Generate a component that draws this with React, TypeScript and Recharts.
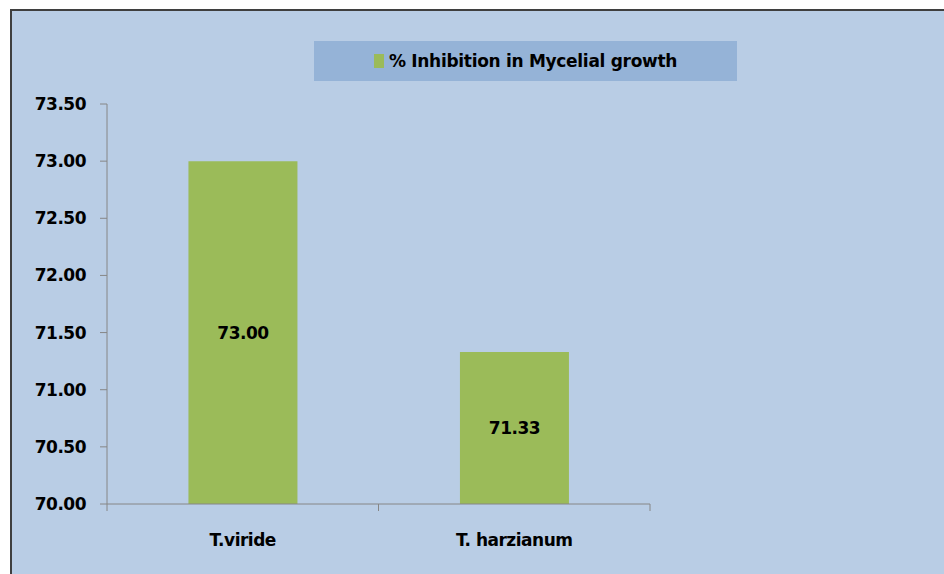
import { BarChart, Bar, XAxis, YAxis, Legend, LabelList } from "recharts";

const categories = ["T.viride", "T. harzianum"];
const inhibition = [73.0, 71.33];
const yTicks = [70, 70.5, 71, 71.5, 72, 72.5, 73, 73.5];
const seriesName = "% Inhibition in Mycelial growth";

const data = categories.map((name, i) => ({ name, value: inhibition[i] }));

const FONT = "'DejaVu Sans', 'Liberation Sans', Arial, sans-serif";
const AXIS_COLOR = "#868686";
const TICK_SIZE = 7;
const X_TICK_MARGIN = 23;

const labelStyle = { fill: "#000", fontFamily: FONT, fontWeight: "bold", fontSize: 17, letterSpacing: -0.5 };

// Excel-style category axis: tick marks sit between categories, not under them
function CategoryTick(props: any) {
  const { x, y, payload, index, visibleTicksCount } = props;
  const half = payload.offset || 0;
  const axisY = y - TICK_SIZE - X_TICK_MARGIN;
  const isLast = index === visibleTicksCount - 1;
  return (
    <g>
      <line x1={x - half} x2={x - half} y1={axisY} y2={axisY + TICK_SIZE} stroke={AXIS_COLOR} />
      {isLast && <line x1={x + half} x2={x + half} y1={axisY} y2={axisY + TICK_SIZE} stroke={AXIS_COLOR} />}
      <text x={x} y={y} dy="0.71em" textAnchor="middle" style={labelStyle}>
        {payload.value}
      </text>
    </g>
  );
}

function LegendBox() {
  return (
    <div
      style={{
        width: 423,
        height: 40,
        background: "#95b3d7",
        display: "flex",
        alignItems: "center",
        justifyContent: "center",
        fontFamily: FONT,
        fontWeight: "bold",
        fontSize: 17,
        color: "#000",
        letterSpacing: -0.3,
      }}
    >
      <span style={{ display: "inline-block", width: 10, height: 14, background: "#9bbb59", marginRight: 5 }} />
      {seriesName}
    </div>
  );
}

export default function App() {
  return (
    <div style={{ position: "absolute", left: 0, top: 0, width: 944, height: 574, background: "#fff", overflow: "hidden" }}>
      <div
        style={{
          position: "absolute",
          left: 10,
          top: 9,
          width: 944,
          height: 574,
          background: "#b9cde5",
          borderLeft: "2px solid #3f3f3f",
          borderTop: "2px solid #3f3f3f",
        }}
      />
      <div style={{ position: "absolute", left: 0, top: 0 }}>
        <BarChart
          width={944}
          height={574}
          data={data}
          margin={{ top: 104, right: 294, bottom: 30, left: 0 }}
          barCategoryGap="30%"
        >
          <XAxis
            dataKey="name"
            height={40}
            stroke={AXIS_COLOR}
            tickLine={false}
            tickSize={TICK_SIZE}
            tickMargin={X_TICK_MARGIN}
            interval={0}
            tick={<CategoryTick />}
          />
          <YAxis
            width={107}
            domain={[70, 73.5]}
            ticks={yTicks}
            interval={0}
            stroke={AXIS_COLOR}
            tickSize={TICK_SIZE}
            tickMargin={14}
            tickFormatter={(v: number) => v.toFixed(2)}
            tick={labelStyle}
          />
          <Legend
            verticalAlign="middle"
            align="center"
            layout="horizontal"
            wrapperStyle={{ top: 41, left: 314, width: 423, height: 40 }}
            content={() => <LegendBox />}
          />
          <Bar dataKey="value" name={seriesName} fill="#9bbb59" isAnimationActive={false}>
            <LabelList
              dataKey="value"
              position="center"
              formatter={(v: number) => Number(v).toFixed(2)}
              style={labelStyle}
            />
          </Bar>
        </BarChart>
      </div>
    </div>
  );
}
